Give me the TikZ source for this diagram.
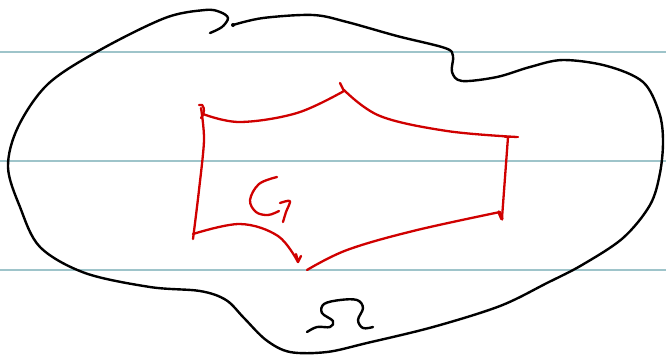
\documentclass[tikz,border=0pt]{standalone}
\begin{document}
\begin{tikzpicture}[x=1pt,y=-1pt,
  rule/.style={draw=ruleblue,line width=2.6pt},
  ink/.style={draw=black,line width=2.4pt,line cap=round,line join=round},
  redink/.style={draw=inkred,line width=2.3pt,line cap=round,line join=round}]
\definecolor{ruleblue}{RGB}{158,196,202}
\definecolor{inkred}{RGB}{208,0,0}
\useasboundingbox[fill=white] (0,0) rectangle (666,354);
% ruled lines
\draw[rule] (0,52) -- (666,52);
\draw[rule] (0,161) -- (666,161);
\draw[rule] (0,270) -- (666,270);
% black region Omega boundary
\draw[ink] plot[smooth,tension=0.55] coordinates {
 (233,25) (263,18) (313,15) (347,22) (397,36) (445,48) (453,56) (452,72) (462,81)
 (497,77) (530,67) (563,60) (607,66) (643,82) (659,112) (663,140) (660,173)
 (650,205) (623,238) (582,265) (547,283) (500,306) (433,327) (367,343) (327,352)
 (290,352) (266,340) (244,318) (226,300) (200,291) (150,287) (85,273) (40,247)
 (20,207) (8,167) (18,127) (48,84) (100,50) (165,18) (205,10) (220,12) (228,18)
 (222,27) (210,33)};
\fill (233,25) circle (2pt);
% red region G
\draw[redink] plot[smooth,tension=0.5] coordinates {(201,108) (204,140) (199,190) (193,239)};
\draw[redink] (199,105) .. controls (204,102) and (206,112) .. (201,118);
\draw[redink] plot[smooth,tension=0.6] coordinates {(203,114) (240,122) (297,113) (344,91)};
\draw[redink] (340,83) -- (344,91);
\draw[redink] plot[smooth,tension=0.6] coordinates {(344,90) (380,116) (447,131) (517,137)};
\draw[redink] (505,137) -- (518,137);
\draw[redink] (508,137) -- (502,218);
\draw[line width=3.5pt,inkred,line cap=round] (499,212) -- (502,219);
\draw[redink] plot[smooth,tension=0.6] coordinates {(500,212) (413,231) (347,250) (307,270)};
\draw[redink] plot[smooth,tension=0.6] coordinates {(193,234) (240,224) (278,236) (298,262)};
\draw[redink] (296,254) -- (298,262) -- (301,256);
% label G
\draw[redink] plot[smooth,tension=0.6] coordinates {(277,177) (259,184) (250,200) (256,212) (268,215) (279,211)};
\draw[redink] plot[smooth,tension=0.5] coordinates {(280,203) (290,201) (286,212) (283,222)};
% label Omega
\draw[ink] plot[smooth,tension=0.6] coordinates {(307,332) (317,327) (330,327) (333,321) (322,313)
 (324,304) (340,300) (357,300) (363,308) (358,320) (363,328) (373,327)};
\end{tikzpicture}
\end{document}
